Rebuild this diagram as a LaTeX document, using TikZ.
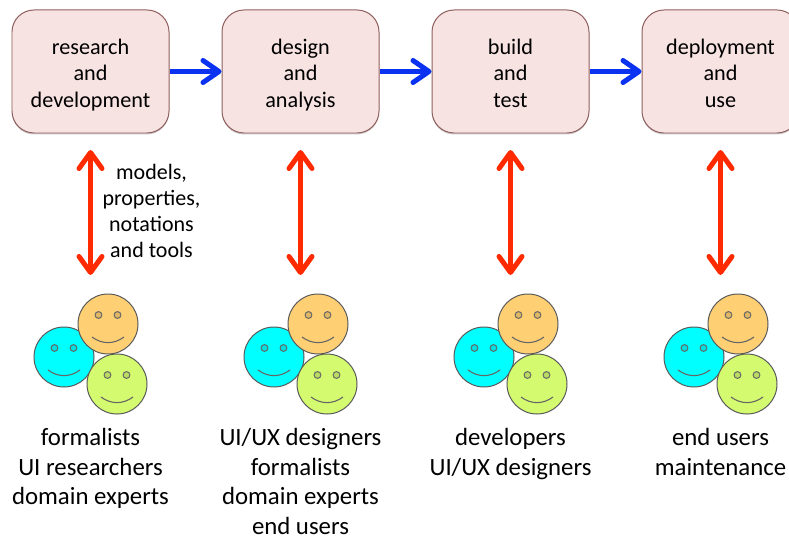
\documentclass[tikz,border=0pt]{standalone}
\usepackage{fontspec}
\setmainfont{Carlito}
\usetikzlibrary{arrows.meta,calc,positioning,shadows}
\definecolor{boxfill}{HTML}{F7E3E2}
\definecolor{boxline}{HTML}{8F5F5E}
\definecolor{flowblue}{HTML}{0A32F0}
\definecolor{linkred}{HTML}{FF2A00}
\definecolor{faceorange}{HTML}{FFD073}
\definecolor{facecyan}{HTML}{00FFFF}
\definecolor{facegreen}{HTML}{D4FA70}
\tikzset{
  phase/.style={draw=boxline,fill=boxfill,line width=1pt,rounded corners=22bp,minimum width=157bp,minimum height=123bp,align=center,inner sep=0pt,text height=72bp,text depth=0bp,font=\fontsize{22.2bp}{26.5bp}\selectfont,drop shadow={shadow xshift=0bp,shadow yshift=-1.5bp,opacity=0.4}},
  flow/.style={draw=flowblue,line width=5.5bp,-{Straight Barb[length=16bp,width=22bp,line width=5bp,round]}},
  link/.style={draw=linkred,line width=5bp,{Straight Barb[length=16bp,width=23bp,line width=5bp,round]}-{Straight Barb[length=16bp,width=23bp,line width=5bp,round]}},
  note/.style={align=center,inner sep=0pt,font=\fontsize{22bp}{26bp}\selectfont},
  people/.style={align=center,anchor=north,inner sep=0pt,font=\fontsize{24.8bp}{29.5bp}\selectfont},
  face/.pic={
    \draw[fill=#1,draw=black!65,line width=1pt] (0,0) circle (30);
    \draw[fill=black!12!#1,draw=black!60,line width=1pt] (-9.5,-9) circle (3.4) (9.5,-9) circle (3.4);
    \draw[draw=black!60,line width=1.1pt] (-16,13) .. controls (-6,20.5) and (6,20.5) .. (16,13);
  },
  team/.pic={
    \pic at (-26,33) {face=facecyan};
    \pic at (18,0) {face=faceorange};
    \pic at (27,60) {face=facegreen};
  }
}
\begin{document}
\begin{tikzpicture}[x=1bp,y=-1bp]
\useasboundingbox (0,0) rectangle (789,537);
% phases
\node[phase] (research) at (90.5,71.5) {research\\and\\development};
\node[phase] (design) at (300.5,71.5) {design\\and\\analysis};
\node[phase] (build) at (510.5,71.5) {build\\and\\test};
\node[phase] (deploy) at (720.5,71.5) {deployment\\and\\use};
\draw[flow] (research) -- (design);
\draw[flow] (design) -- (build);
\draw[flow] (build) -- (deploy);
% groups
\coordinate (t1) at (90.5,275);
\coordinate (t2) at (300.5,275);
\coordinate (t3) at (510.5,275);
\coordinate (t4) at (720.5,275);
\coordinate (b1) at (90.5,150);
\coordinate (b2) at (300.5,150);
\coordinate (b3) at (510.5,150);
\coordinate (b4) at (720.5,150);
\draw[link] (b1) -- (t1);
\draw[link] (b2) -- (t2);
\draw[link] (b3) -- (t3);
\draw[link] (b4) -- (t4);
\node[note] (tools) at (151.5,211) {models,\\properties,\\notations\\and tools};
\pic at (90,324) {team};
\pic at (300,324) {team};
\pic at (510,324) {team};
\pic at (720,324) {team};
\node[people] (who1) at (90.5,428.5) {formalists\\UI researchers\\domain experts};
\node[people] (who2) at (300.5,428.5) {UI/UX designers\\formalists\\domain experts\\end users};
\node[people] (who3) at (510.5,428.5) {developers\\UI/UX designers};
\node[people] (who4) at (720.5,428.5) {end users\\maintenance};
\end{tikzpicture}
\end{document}
